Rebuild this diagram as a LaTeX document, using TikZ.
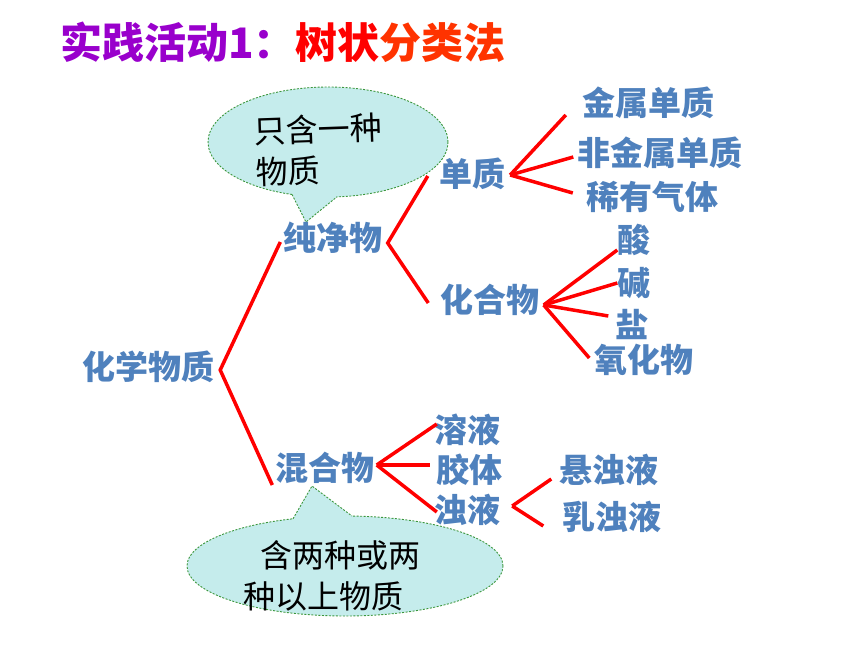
\documentclass[tikz,border=0pt]{standalone}
\usepackage{fontspec}
\setmainfont{Noto Sans CJK SC}
\usetikzlibrary{calc}
\definecolor{title purple}{RGB}{153,0,204}
\definecolor{title orange}{RGB}{255,51,0}
\definecolor{tree blue}{RGB}{79,129,189}
\definecolor{callout cyan}{RGB}{197,236,236}
\definecolor{callout green}{RGB}{60,150,60}
\tikzset{
    % Colors
    term color/.style={color=tree blue},
    branch color/.style={red},
    %
    % Nodes
    term/.style={term color,inner sep=0pt,font=\bfseries\fontsize{33}{36}\selectfont},
    note/.style={inner sep=0pt,align=left,font=\fontsize{32}{41}\selectfont},
    headline/.style={inner sep=0pt,font=\bfseries\fontsize{42}{46}\selectfont},
    %
    % Lines
    branch/.style={branch color,line width=3.5pt},
    bubble/.style={fill=callout cyan,draw=callout green,line width=.9pt,dash pattern=on 2pt off 1.5pt}
}

\begin{document}
\begin{tikzpicture}[x=1pt,y=-1pt]
    \useasboundingbox (0,0) rectangle (860,645);
    \node[headline,anchor=west] (title) at (60,42) {\textcolor{title purple}{实践活动1：}\textcolor{red}{树状}\textcolor{title orange}{分类法}};
    % callouts
    \draw[bubble] (328,142) ellipse[x radius=120pt,y radius=55pt];
    \fill[callout cyan] (292,194.5) -- (306,222) -- (337,196.8) -- (337,180) -- (292,180) -- cycle;
    \draw[bubble,fill=none] (292,194.5) -- (306,222) -- (337,196.8);
    \draw[bubble] (345,566) ellipse[x radius=158pt,y radius=50pt];
    \fill[callout cyan] (293,518.8) -- (312,486) -- (352,516) -- (352,530) -- (293,530) -- cycle;
    \draw[bubble,fill=none] (293,518.8) -- (312,486) -- (352,516);
    \node[note,rotate=2] (pure note) at (319,150) {只含一种\\物质};
    \node[note] (mix note) at (332,576) {\hspace{.53em}含两种或两\\种以上物质};
    % terms
    \node[term] (chem) at (148,367) {化学物质};
    \node[term] (pure) at (333,238) {纯净物};
    \node[term] (mix) at (325,468) {混合物};
    \node[term] (elem) at (472,174) {单质};
    \node[term] (comp) at (490,300) {化合物};
    \node[term] (metal) at (648,103) {金属单质};
    \node[term] (nonmetal) at (660,153) {非金属单质};
    \node[term] (noble) at (652,197) {稀有气体};
    \node[term] (acid) at (634,240) {酸};
    \node[term] (base) at (634,283) {碱};
    \node[term] (salt) at (632,324) {盐};
    \node[term] (oxide) at (644,360) {氧化物};
    \node[term] (sol) at (467,430) {溶液};
    \node[term] (colloid) at (469,470) {胶体};
    \node[term] (turbid) at (467,510) {浊液};
    \node[term] (susp) at (609,470) {悬浊液};
    \node[term] (emul) at (612,517) {乳浊液};
    % branches
    \draw[branch] ([shift={(-3,4)}]pure.west) -- ([shift={(6,3)}]chem.east) -- ([shift={(-3,17)}]mix.west);
    \draw[branch] ([shift={(-11,2)}]elem.west) -- ([shift={(5,5)}]pure.east) -- ([shift={(-12,3)}]comp.west);
    \foreach \leaf/\dx/\dy in {metal/-16/12,nonmetal/-4/4,noble/-13/-4}
        \draw[branch] ([shift={(5,1)}]elem.east) -- ([shift={(\dx,\dy)}]\leaf.west);
    \foreach \leaf/\dx/\dy in {acid/0/10,base/0/0,salt/-7/-8,oxide/-5/-2}
        \draw[branch] ([shift={(4,5)}]comp.east) -- ([shift={(\dx,\dy)}]\leaf.west);
    \foreach \leaf/\dx/\dy in {sol/3/-6,colloid/-6/-5,turbid/3/2}
        \draw[branch] ([shift={(2,-3)}]mix.east) -- ([shift={(\dx,\dy)}]\leaf.west);
    \foreach \leaf/\dx/\dy in {susp/-8/9,emul/-19/9}
        \draw[branch] ([shift={(12,-4)}]turbid.east) -- ([shift={(\dx,\dy)}]\leaf.west);
\end{tikzpicture}
\end{document}
